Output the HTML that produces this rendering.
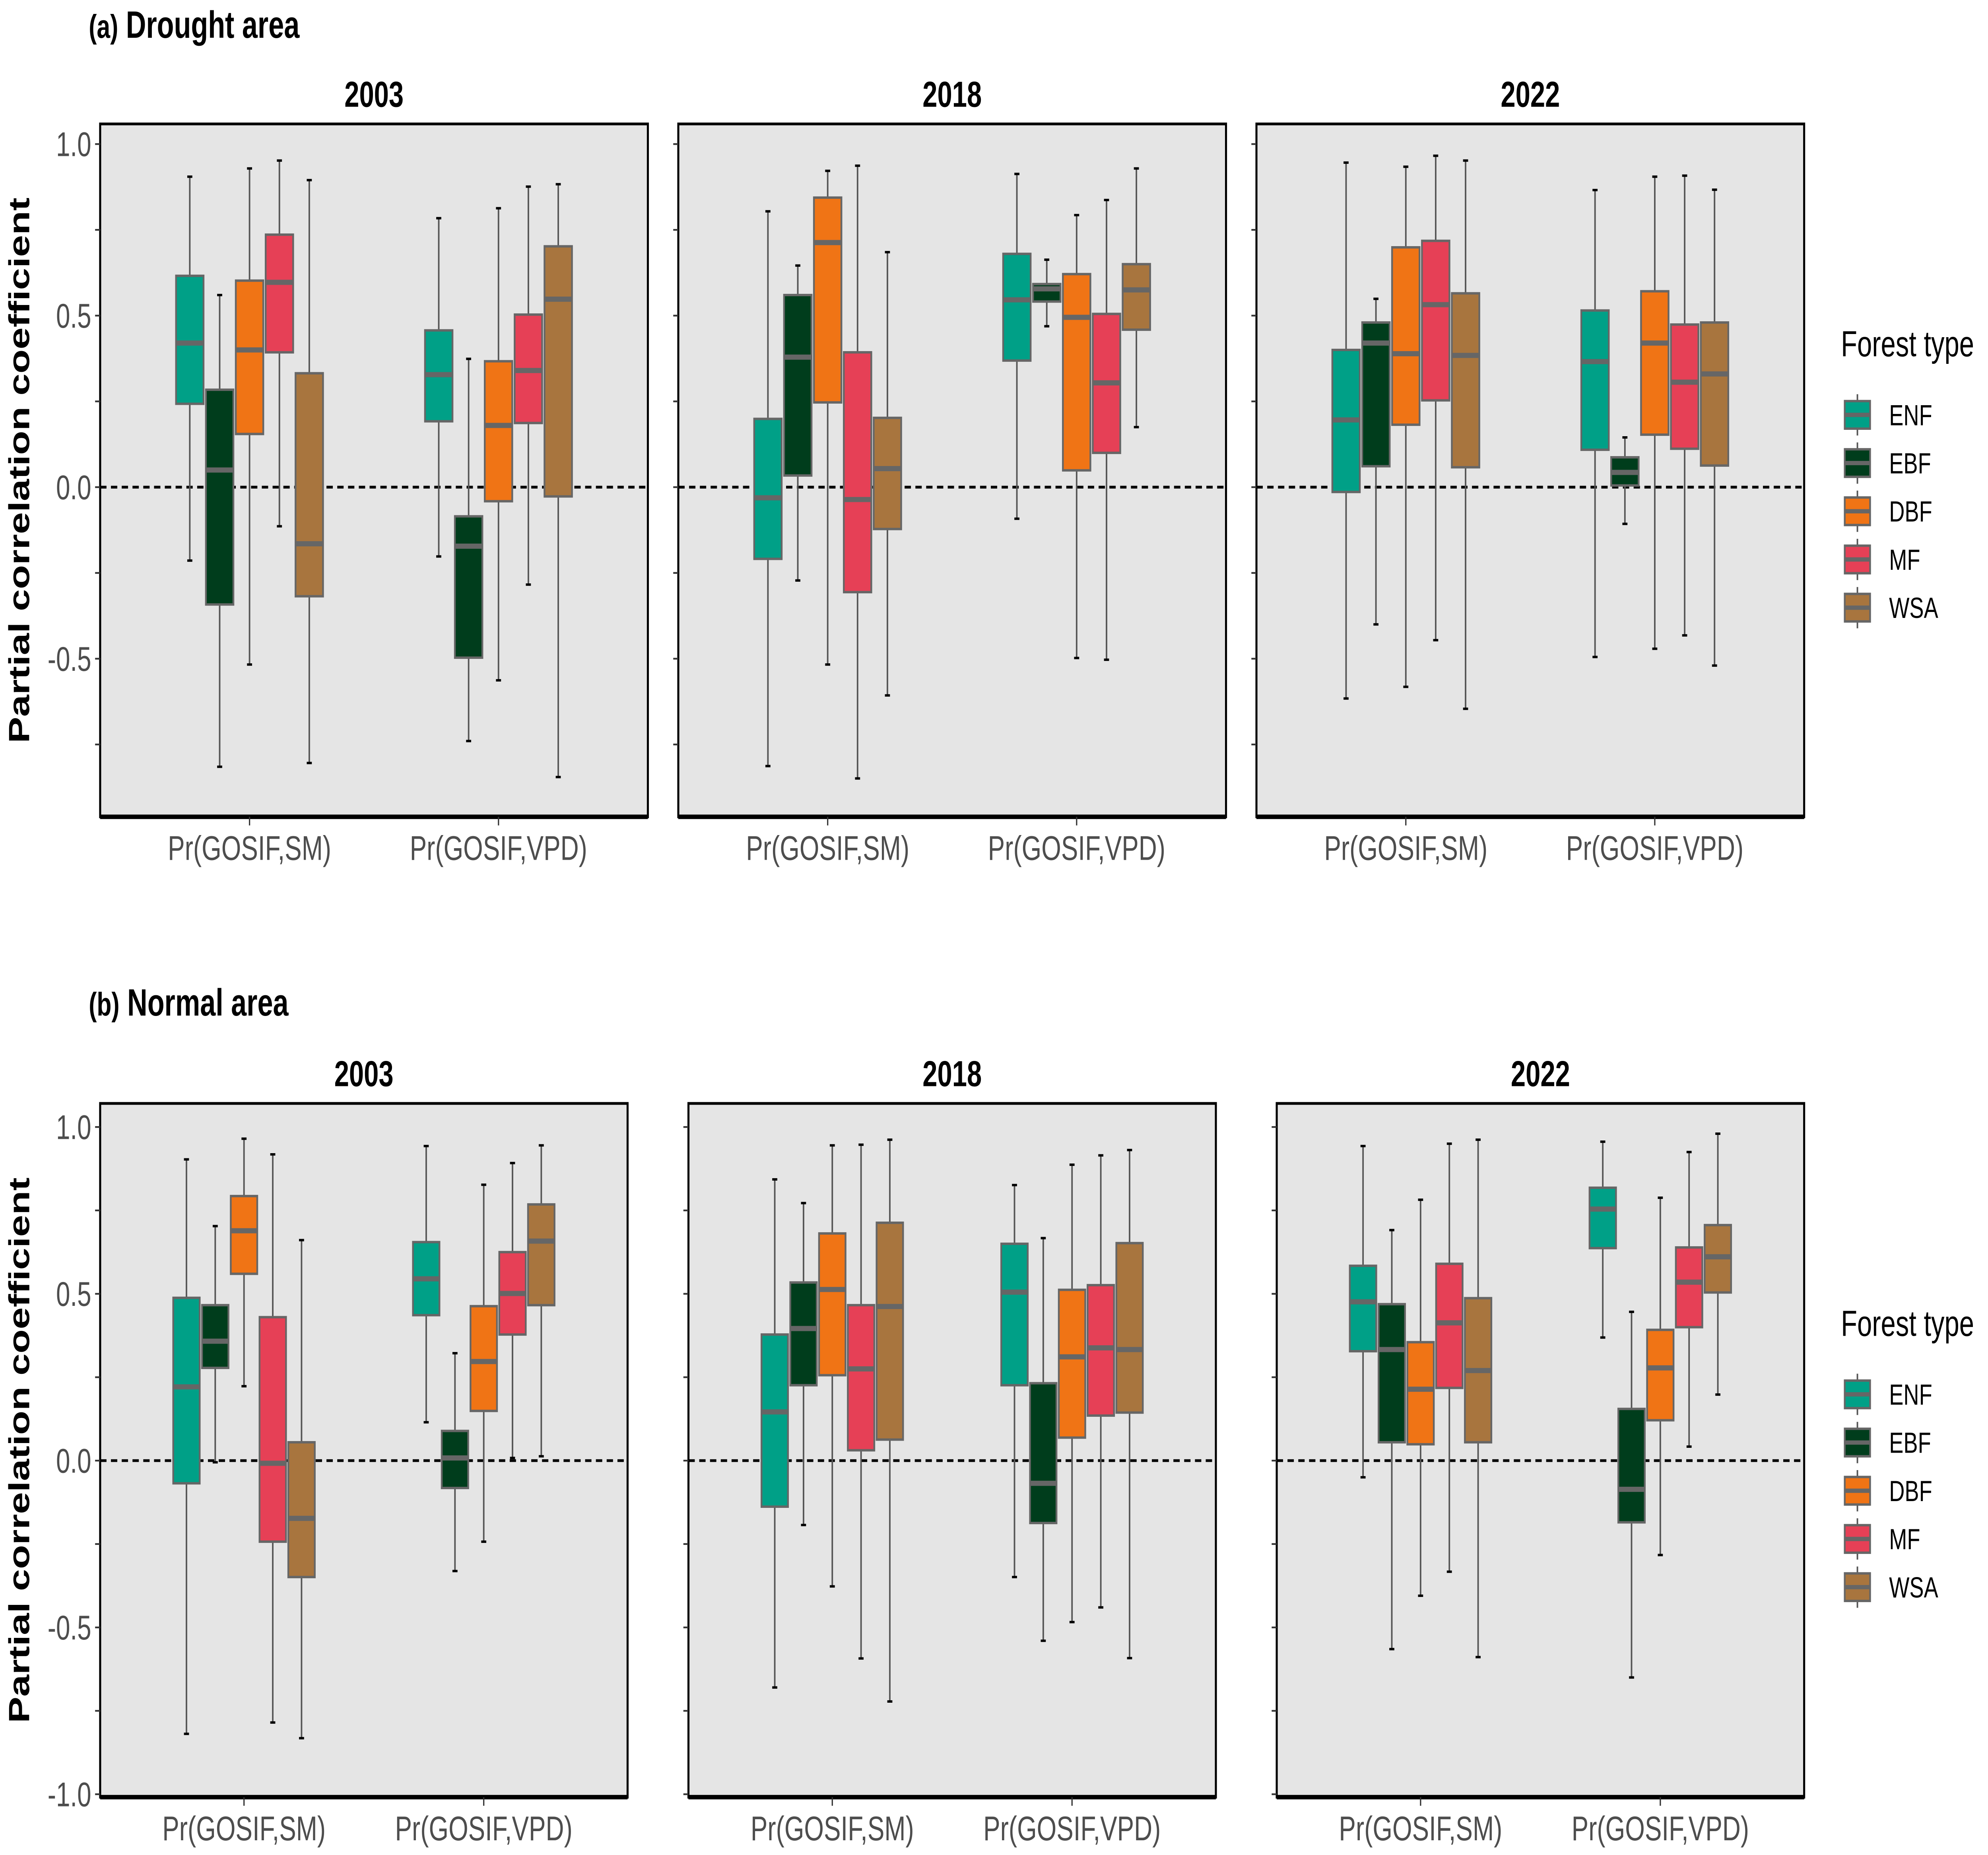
<!DOCTYPE html>
<html><head><meta charset="utf-8"><meta name="viewport" content="width=6788, initial-scale=1">
<style>
html,body{margin:0;padding:0;background:#fff;width:100%;height:100%;overflow:hidden;}
svg{display:block;position:fixed;left:0;top:0;width:100vw;height:100vh;}
text{font-family:"Liberation Sans",sans-serif;}
</style></head><body>
<svg id="chart" viewBox="0 0 1568 1077.6" preserveAspectRatio="none" xmlns="http://www.w3.org/2000/svg"><g id="root"></g></svg>
<script>
const types=["ENF","EBF","DBF","MF","WSA"];
const colors=["#00A087","#003D1C","#F07415","#E64056","#A8753E"];
const groups=["Pr(GOSIF,SM)","Pr(GOSIF,VPD)"];
const years=["2003","2018","2022"];
const yTicksA=[1.0,0.5,0.0,-0.5];
const yTicksB=[1.0,0.5,0.0,-0.5,-1.0];
// [whiskerTop, q3, median, q1, whiskerBottom]
const droughtData=[
 [[[0.905,0.616,0.42,0.243,-0.214],[0.56,0.284,0.05,-0.342,-0.815],[0.929,0.602,0.40,0.155,-0.517],[0.952,0.736,0.597,0.393,-0.114],[0.895,0.332,-0.165,-0.318,-0.804]],
  [[0.784,0.457,0.328,0.192,-0.202],[0.374,-0.085,-0.172,-0.497,-0.74],[0.813,0.367,0.18,-0.041,-0.563],[0.876,0.503,0.34,0.187,-0.284],[0.883,0.702,0.548,-0.027,-0.845]]],
 [[[0.804,0.199,-0.031,-0.209,-0.813],[0.646,0.56,0.379,0.034,-0.272],[0.922,0.844,0.713,0.247,-0.517],[0.937,0.393,-0.036,-0.306,-0.849],[0.685,0.202,0.054,-0.122,-0.607]],
  [[0.913,0.68,0.546,0.369,-0.092],[0.663,0.592,0.578,0.541,0.469],[0.793,0.621,0.495,0.049,-0.498],[0.837,0.505,0.304,0.1,-0.503],[0.929,0.65,0.575,0.459,0.175]]],
 [[[0.946,0.40,0.196,-0.014,-0.616],[0.549,0.48,0.42,0.061,-0.40],[0.934,0.699,0.389,0.182,-0.582],[0.966,0.718,0.532,0.253,-0.446],[0.952,0.565,0.384,0.058,-0.646]],
  [[0.866,0.515,0.366,0.109,-0.495],[0.145,0.087,0.043,0.005,-0.107],[0.905,0.571,0.42,0.153,-0.471],[0.908,0.474,0.306,0.112,-0.432],[0.867,0.48,0.33,0.063,-0.52]]]
];
const normalData=[
 [[[0.903,0.488,0.221,-0.068,-0.819],[0.703,0.466,0.358,0.278,-0.005],[0.965,0.793,0.689,0.56,0.223],[0.918,0.43,-0.008,-0.243,-0.785],[0.661,0.055,-0.173,-0.349,-0.832]],
  [[0.943,0.655,0.545,0.436,0.115],[0.322,0.089,0.008,-0.082,-0.331],[0.827,0.463,0.297,0.149,-0.243],[0.892,0.625,0.501,0.378,0.008],[0.945,0.768,0.658,0.466,0.013]]],
 [[[0.843,0.378,0.146,-0.138,-0.68],[0.772,0.534,0.396,0.226,-0.193],[0.945,0.681,0.513,0.256,-0.377],[0.947,0.466,0.275,0.031,-0.593],[0.962,0.713,0.462,0.063,-0.722]],
  [[0.826,0.65,0.505,0.226,-0.349],[0.667,0.232,-0.068,-0.187,-0.54],[0.887,0.512,0.311,0.069,-0.484],[0.915,0.526,0.338,0.135,-0.44],[0.931,0.652,0.333,0.144,-0.592]]],
 [[[0.943,0.584,0.476,0.328,-0.05],[0.691,0.469,0.333,0.055,-0.565],[0.782,0.355,0.214,0.049,-0.405],[0.95,0.59,0.413,0.218,-0.333],[0.962,0.487,0.27,0.055,-0.589]],
  [[0.956,0.818,0.754,0.637,0.369],[0.446,0.155,-0.086,-0.185,-0.65],[0.788,0.392,0.278,0.121,-0.283],[0.925,0.639,0.535,0.4,0.042],[0.98,0.706,0.611,0.504,0.198]]]
];
const root=document.getElementById('root');
const NS="http://www.w3.org/2000/svg";
function mk(tag,attrs,parent,txt){const e=document.createElementNS(NS,tag);for(const k in attrs)e.setAttribute(k,attrs[k]);if(txt!==undefined)e.textContent=txt;(parent||root).appendChild(e);return e;}

function drawSection(cfg){
  const sec=mk('g',{});
  
  
  const t=mk('text',{x:70,y:cfg.titleY,'font-size':22,'font-weight':'bold',fill:'#000'},sec);
  t.innerHTML='<tspan font-size="19">'+cfg.label+'</tspan> '+cfg.title;
  
  
  const yt=mk('text',{x:0,y:0,'font-size':23,'font-weight':'bold','text-anchor':'middle',fill:'#000',transform:`translate(23,${(cfg.top+cfg.bottom)/2}) rotate(-90)`},sec,'Partial correlation coefficient');
  
  
  const yScale=v=>cfg.zeroY-v*cfg.unit;
  cfg.panelX.forEach((px,pi)=>{
    const W=cfg.W;
    const pg=mk('g',{},sec);
    
    
    const ft=mk('text',{x:px+W/2,y:cfg.top-10,'font-size':21,'font-weight':'bold','text-anchor':'middle',fill:'#000'},pg,years[pi]);
    
    
    const bg=mk('rect',{x:px,y:cfg.top,width:W,height:cfg.bottom-cfg.top,fill:'#e5e5e5',stroke:'#000','stroke-width':1.6},pg);
    
    
    mk('line',{x1:px,x2:px+W,y1:cfg.bottom,y2:cfg.bottom,stroke:'#000','stroke-width':2.6},pg);
    const minor=[];
    for(let v=cfg.ymin;v<=1.0001;v+=0.25){minor.push(v);}
    minor.forEach(v=>{const y=yScale(v);if(y>cfg.top&&y<cfg.bottom+1)mk('line',{x1:px-4,x2:px,y1:y,y2:y,stroke:'#333','stroke-width':1},pg);});
    if(pi===0){
      cfg.ticks.forEach(v=>{
        const lab=mk('text',{x:px-7,y:yScale(v)+7,'font-size':20,'text-anchor':'end',fill:'#4d4d4d'},pg,v.toFixed(1));
        
        
      });
    }
    const zl=mk('line',{x1:px,x2:px+W,y1:yScale(0),y2:yScale(0),stroke:'#000','stroke-width':1.6,'stroke-dasharray':'5 3.5'},pg);
    
    
    const xPos=i=>px+W*((i+1)-0.4)/2.2;
    const bw=W*0.12/2.2;
    groups.forEach((g,gi)=>{
      const cx=xPos(gi);
      mk('line',{x1:cx,x2:cx,y1:cfg.bottom,y2:cfg.bottom+5,stroke:'#333','stroke-width':1},pg);
      const xl=mk('text',{x:cx,y:cfg.bottom+25,'font-size':20,'text-anchor':'middle',fill:'#4d4d4d'},pg,g);
      
      
      types.forEach((tp,ti)=>{
        const d=cfg.data[pi][gi][ti];
        const bx=cx+(ti-2)*bw;
        const bg2=mk('g',{},pg);
        
        
        mk('line',{x1:bx,x2:bx,y1:yScale(d[0]),y2:yScale(d[4]),stroke:'#555','stroke-width':1.2},bg2);
        mk('line',{x1:bx-2,x2:bx+2,y1:yScale(d[0]),y2:yScale(d[0]),stroke:'#000','stroke-width':1.4},bg2);
        mk('line',{x1:bx-2,x2:bx+2,y1:yScale(d[4]),y2:yScale(d[4]),stroke:'#000','stroke-width':1.4},bg2);
        const w=bw*0.92;
        mk('rect',{x:bx-w/2,y:yScale(d[1]),width:w,height:Math.max(1,yScale(d[3])-yScale(d[1])),fill:colors[ti],stroke:'#666','stroke-width':1.4},bg2);
        mk('line',{x1:bx-w/2,x2:bx+w/2,y1:yScale(d[2]),y2:yScale(d[2]),stroke:'#666','stroke-width':3},bg2);
      });
    });
  });
  const lg=mk('g',{},sec);
  
  
  mk('text',{x:1452,y:cfg.legY,'font-size':21,fill:'#000'},lg,'Forest type');
  types.forEach((tp,ti)=>{
    const cy=cfg.legY+34+ti*28;
    const e=mk('g',{},lg);
    
    
    mk('line',{x1:1465,x2:1465,y1:cy-12,y2:cy+12,stroke:'#555','stroke-width':1.2},e);
    mk('rect',{x:1455,y:cy-8,width:20,height:16,fill:colors[ti],stroke:'#666','stroke-width':1.4},e);
    mk('line',{x1:1455,x2:1475,y1:cy,y2:cy,stroke:'#666','stroke-width':2.5},e);
    mk('text',{x:1490,y:cy+6,'font-size':17,fill:'#000'},e,tp);
  });
}
drawSection({name:'panel-a-drought',label:'(a)',title:'Drought area',titleY:22,top:72,bottom:474.5,zeroY:283,unit:199.3,W:432,panelX:[79,535,991],ticks:yTicksA,ymin:-0.75,data:droughtData,legY:207});
drawSection({name:'panel-b-normal',label:'(b)',title:'Normal area',titleY:590,top:641,bottom:1044,zeroY:848.5,unit:193.8,W:416,panelX:[79,543,1007],ticks:yTicksB,ymin:-1.0,data:normalData,legY:776});
</script>
</body></html>
